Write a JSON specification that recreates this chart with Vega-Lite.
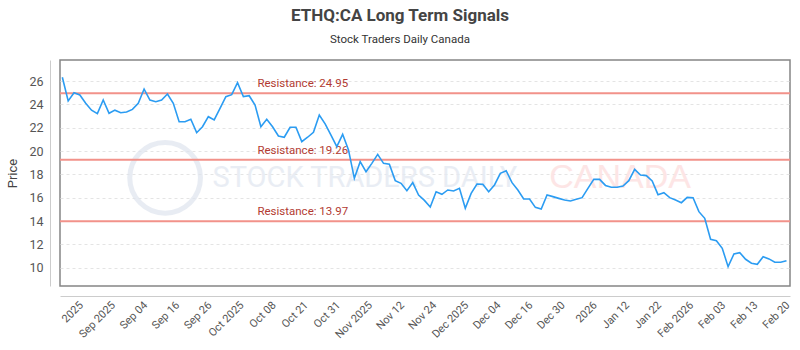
{
  "$schema": "https://vega.github.io/schema/vega-lite/v6.json",
  "width": 730,
  "height": 226,
  "autosize": "none",
  "padding": {"left": 60, "top": 60, "right": 10, "bottom": 64},
  "background": "white",
  "title": {
    "text": "ETHQ:CA Long Term Signals",
    "subtitle": "Stock Traders Daily Canada",
    "anchor": "middle",
    "dx": -25,
    "font": "Roboto",
    "fontSize": 17,
    "fontWeight": "bold",
    "color": "#444444",
    "subtitleFont": "Roboto",
    "subtitleFontSize": 11.5,
    "subtitleColor": "#333333",
    "subtitlePadding": 9,
    "offset": 14
  },
  "config": {
    "view": {"stroke": "#858585", "strokeWidth": 1.5},
    "axis": {"labelFont": "Roboto", "titleFont": "Roboto"},
    "axisX": {"labelOverlap": false, "labelBound": false, "labelFlush": false},
    "axisY": {"labelOverlap": false, "labelBound": false, "labelFlush": false}
  },
  "datasets": {
    "prices": [
      {"i":0,"price":26.32},{"i":1,"price":24.29},{"i":2,"price":25.0},{"i":3,"price":24.8},{"i":4,"price":24.09},
      {"i":5,"price":23.5},{"i":6,"price":23.2},{"i":7,"price":24.37},{"i":8,"price":23.23},{"i":9,"price":23.5},
      {"i":10,"price":23.28},{"i":11,"price":23.34},{"i":12,"price":23.57},{"i":13,"price":24.09},{"i":14,"price":25.31},
      {"i":15,"price":24.37},{"i":16,"price":24.23},{"i":17,"price":24.37},{"i":18,"price":24.89},{"i":19,"price":24.09},
      {"i":20,"price":22.51},{"i":21,"price":22.51},{"i":22,"price":22.72},{"i":23,"price":21.57},{"i":24,"price":22.08},
      {"i":25,"price":22.94},{"i":26,"price":22.66},{"i":27,"price":23.66},{"i":28,"price":24.66},{"i":29,"price":24.83},
      {"i":30,"price":25.86},{"i":31,"price":24.66},{"i":32,"price":24.74},{"i":33,"price":23.94},{"i":34,"price":22.08},
      {"i":35,"price":22.72},{"i":36,"price":22.08},{"i":37,"price":21.29},{"i":38,"price":21.18},{"i":39,"price":22.03},
      {"i":40,"price":22.03},{"i":41,"price":20.8},{"i":42,"price":21.18},{"i":43,"price":21.6},{"i":44,"price":23.09},
      {"i":45,"price":22.32},{"i":46,"price":21.37},{"i":47,"price":20.37},{"i":48,"price":21.43},{"i":49,"price":20.09},
      {"i":50,"price":17.66},{"i":51,"price":19.09},{"i":52,"price":18.23},{"i":53,"price":18.94},{"i":54,"price":19.71},
      {"i":55,"price":18.94},{"i":56,"price":18.86},{"i":57,"price":17.46},{"i":58,"price":17.23},{"i":59,"price":16.6},
      {"i":60,"price":17.29},{"i":61,"price":16.23},{"i":62,"price":15.77},{"i":63,"price":15.2},{"i":64,"price":16.51},
      {"i":65,"price":16.29},{"i":66,"price":16.66},{"i":67,"price":16.57},{"i":68,"price":16.8},{"i":69,"price":15.09},
      {"i":70,"price":16.37},{"i":71,"price":17.17},{"i":72,"price":17.14},{"i":73,"price":16.51},{"i":74,"price":17.09},
      {"i":75,"price":18.09},{"i":76,"price":18.31},{"i":77,"price":17.29},{"i":78,"price":16.66},{"i":79,"price":15.89},
      {"i":80,"price":15.89},{"i":81,"price":15.17},{"i":82,"price":15.03},{"i":83,"price":16.23},{"i":84,"price":16.09},
      {"i":85,"price":15.94},{"i":86,"price":15.8},{"i":87,"price":15.72},{"i":88,"price":15.86},{"i":89,"price":16.0},
      {"i":90,"price":16.8},{"i":91,"price":17.57},{"i":92,"price":17.57},{"i":93,"price":17.05},{"i":94,"price":16.9},
      {"i":95,"price":16.89},{"i":96,"price":17.0},{"i":97,"price":17.46},{"i":98,"price":18.43},{"i":99,"price":17.94},
      {"i":100,"price":17.89},{"i":101,"price":17.43},{"i":102,"price":16.26},{"i":103,"price":16.43},{"i":104,"price":16.0},
      {"i":105,"price":15.8},{"i":106,"price":15.57},{"i":107,"price":16.03},{"i":108,"price":16.0},{"i":109,"price":14.8},
      {"i":110,"price":14.23},{"i":111,"price":12.43},{"i":112,"price":12.31},{"i":113,"price":11.66},{"i":114,"price":10.09},
      {"i":115,"price":11.17},{"i":116,"price":11.29},{"i":117,"price":10.72},{"i":118,"price":10.38},{"i":119,"price":10.29},
      {"i":120,"price":10.94},{"i":121,"price":10.75},{"i":122,"price":10.46},{"i":123,"price":10.46},{"i":124,"price":10.6}
    ],
    "levels": [
      {"level": 24.95, "label": "Resistance: 24.95"},
      {"level": 19.26, "label": "Resistance: 19.26"},
      {"level": 13.97, "label": "Resistance: 13.97"}
    ]
  },
  "layer": [
    {
      "data": {"name": "prices"},
      "mark": {"type": "line", "color": "#2b9cf2", "strokeWidth": 1.6, "opacity": 0},
      "encoding": {
        "x": {
          "field": "i", "type": "quantitative",
          "scale": {"domain": [-0.4, 124.6], "nice": false, "zero": false},
          "axis": {
            "title": null,
            "offset": 10,
            "grid": false,
            "ticks": false,
            "tickCount": 100,
            "domainColor": "#cccccc",
            "labelAngle": -45,
            "labelFontSize": 11,
            "labelColor": "#555555",
            "labelPadding": 3,
            "labelOverlap": false,
            "values": [2.5, 8, 13.5, 19, 24.5, 30, 35.5, 41, 46.5, 52, 57.5, 63, 68.5, 74, 79.5, 85, 90.5, 96, 101.5, 107, 112.5, 118, 123.5],
            "labelExpr": "['2025','Sep 2025','Sep 04','Sep 16','Sep 26','Oct 2025','Oct 08','Oct 21','Oct 31','Nov 2025','Nov 12','Nov 24','Dec 2025','Dec 04','Dec 16','Dec 30','2026','Jan 12','Jan 22','Feb 2026','Feb 03','Feb 13','Feb 20'][round((datum.value-2.5)/5.5)]"
          }
        },
        "y": {
          "field": "price", "type": "quantitative",
          "scale": {"domain": [8.43, 27.8], "nice": false, "zero": false},
          "axis": {
            "title": "Price",
            "titleFontSize": 13,
            "titleFontWeight": "normal",
            "titleColor": "#444444",
            "titlePadding": 9,
            "offset": 10,
            "values": [10, 12, 14, 16, 18, 20, 22, 24, 26],
            "format": "d",
            "tickCount": 50,
            "ticks": false,
            "domainColor": "#cccccc",
            "labelFontSize": 12.5,
            "labelColor": "#555555",
            "labelPadding": 7,
            "labelOverlap": false,
            "grid": true,
            "gridColor": "#e4e4e4",
            "gridDash": [3, 3]
          }
        }
      }
    },
    {
      "data": {"values": [{}]},
      "mark": {"type": "point", "shape": "circle", "size": 5000, "stroke": "#dfe5ef", "strokeWidth": 5, "opacity": 0.7, "filled": false},
      "encoding": {
        "x": {"datum": 17.6, "type": "quantitative"},
        "y": {"datum": 17.7, "type": "quantitative"}
      }
    },
    {
      "data": {"values": [{}]},
      "mark": {"type": "text", "text": "STOCK TRADERS DAILY", "font": "Roboto", "fontSize": 29, "color": "#e6ebf3", "align": "center", "baseline": "middle", "opacity": 0.85},
      "encoding": {
        "x": {"datum": 51.8, "type": "quantitative"},
        "y": {"datum": 17.7, "type": "quantitative"}
      }
    },
    {
      "data": {"values": [{}]},
      "mark": {"type": "text", "text": "CANADA", "font": "Liberation Sans", "fontSize": 34, "color": "#fde3e3", "align": "center", "baseline": "middle", "opacity": 0.9},
      "encoding": {
        "x": {"datum": 95.5, "type": "quantitative"},
        "y": {"datum": 17.7, "type": "quantitative"}
      }
    },
    {
      "data": {"name": "levels"},
      "mark": {"type": "rule", "color": "#f2928a", "strokeWidth": 2},
      "encoding": {
        "y": {"field": "level", "type": "quantitative"}
      }
    },
    {
      "data": {"name": "levels"},
      "mark": {"type": "text", "align": "left", "baseline": "bottom", "dy": -4, "font": "Roboto", "fontSize": 11.5, "color": "#b23b32"},
      "encoding": {
        "x": {"datum": 33.4, "type": "quantitative"},
        "y": {"field": "level", "type": "quantitative"},
        "text": {"field": "label"}
      }
    },
    {
      "data": {"name": "prices"},
      "mark": {"type": "line", "color": "#2b9cf2", "strokeWidth": 1.6},
      "encoding": {
        "x": {"field": "i", "type": "quantitative"},
        "y": {"field": "price", "type": "quantitative"}
      }
    }
  ]
}
